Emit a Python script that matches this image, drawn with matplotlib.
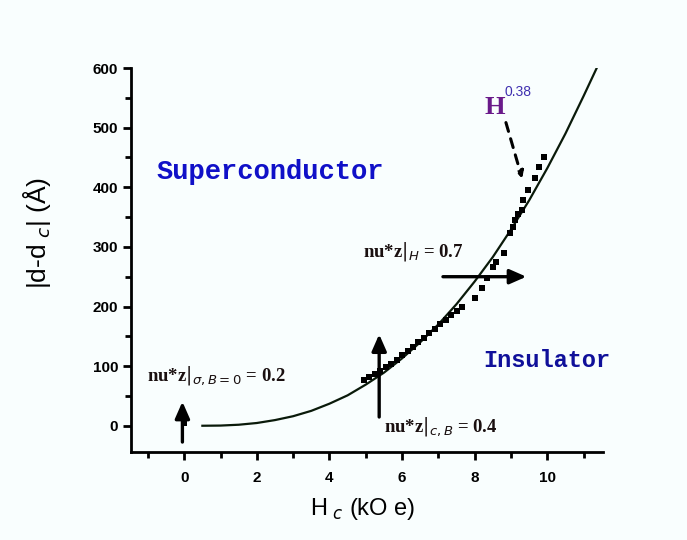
import matplotlib.pyplot as plt
from matplotlib.ticker import MultipleLocator

# fitted power-law curve, read at half-unit steps of H_c
curve_h = [0.5, 1.0, 1.5, 2.0, 2.5, 3.0, 3.5, 4.0, 4.5, 5.0, 5.5, 6.0, 6.5, 7.0,
           7.5, 8.0, 8.5, 9.0, 9.5, 10.0, 10.5, 11.0, 11.4]
curve_d = [0, 0.3, 1.7, 4.6, 9.5, 16, 25, 37, 51, 69, 89, 113, 140, 170,
           204, 242, 283, 329, 378, 432, 490, 553, 605]

# measured points
meas_h = [0.0, 4.95, 5.1, 5.25, 5.4, 5.55, 5.7, 5.85, 6.0, 6.15, 6.3, 6.45, 6.6,
          6.75, 6.9, 7.05, 7.2, 7.35, 7.5, 7.65, 8.02, 8.2, 8.35, 8.5, 8.6,
          8.8, 8.98, 9.06, 9.12, 9.2, 9.3, 9.34, 9.48, 9.67, 9.76, 9.9]
meas_d = [5, 77, 82, 87, 92, 98, 104, 111, 118, 125, 132, 140, 148,
          155, 163, 171, 178, 185, 192, 200, 214, 231, 248, 266, 275,
          290, 323, 333, 345, 355, 362, 378, 395, 415, 434, 451]

plt.rcParams['font.family'] = ['Liberation Sans', 'DejaVu Sans']

fig = plt.figure(figsize=(6.87, 5.4), dpi=100, facecolor='#f9fefe')
ax = fig.add_axes([0.191, 0.163, 0.687, 0.711])
ax.set_facecolor('#f9fefe')

ax.plot(curve_h, curve_d, color='#0a1a0a', lw=1.6, zorder=2)
ax.plot(meas_h, meas_d, 's', color='black', ms=5, mew=0, zorder=3)

# exponent arrows
arrow = dict(arrowstyle='-|>,head_length=0.5,head_width=0.22', color='black',
             lw=2.4, mutation_scale=20)
ax.annotate('', xy=(-0.05, 45), xytext=(-0.05, -32), arrowprops=arrow)
ax.annotate('', xy=(5.37, 158), xytext=(5.37, 10), arrowprops=arrow)
ax.annotate('', xy=(9.5, 250), xytext=(7.05, 250), arrowprops=arrow)
ax.annotate('', xy=(9.33, 410), xytext=(8.84, 513),
            arrowprops=dict(arrowstyle='-|>', color='black', lw=2.2,
                            ls=(0, (3, 2.5)), mutation_scale=10))

lbl = dict(family='Liberation Serif', fontsize=13.5, fontweight='bold', color='#1a1010')
ax.text(-1.02, 84, r'nu*z$|_{\sigma,B=0}$ = 0.2', va='center', **lbl)
ax.text(5.5, -2, r'nu*z$|_{c,B}$ = 0.4', va='center', **lbl)
ax.text(4.92, 292, r'nu*z$|_{H}$ = 0.7', va='center', **lbl)

ax.text(8.28, 533, 'H', family='Liberation Serif', fontsize=19,
        fontweight='bold', color='#6a1a8a', va='center')
ax.text(8.83, 560, '0.38', fontsize=10, color='#4030b0', va='center')

ax.text(-0.75, 425, 'Superconductor', family='Liberation Mono', fontsize=19.5,
        fontweight='bold', color='#1010c8', va='center')
ax.text(8.25, 110, 'Insulator', family='Liberation Mono', fontsize=17,
        fontweight='bold', color='#10109a', va='center')

ax.set_xlim(-1.46, 11.54)
ax.set_ylim(-44, 600)
ax.xaxis.set_major_locator(MultipleLocator(2))
ax.xaxis.set_minor_locator(MultipleLocator(1))
ax.yaxis.set_major_locator(MultipleLocator(100))
ax.yaxis.set_minor_locator(MultipleLocator(50))

for s in ('top', 'right'):
    ax.spines[s].set_visible(False)
for s in ('left', 'bottom'):
    ax.spines[s].set_linewidth(2)

ax.tick_params(which='major', length=6, width=2, labelsize=11)
ax.tick_params(which='minor', length=4, width=2)
ax.tick_params(axis='x', pad=8)
for t in ax.get_xticklabels() + ax.get_yticklabels():
    t.set_fontweight('bold')

ax.set_xlabel(r'H$_{\ c}$ (kO e)', fontsize=17)
ax.set_ylabel(r'|d-d$_{\ c}$| (Å)', fontsize=19)
ax.xaxis.set_label_coords(0.49, -0.115)
ax.yaxis.set_label_coords(-0.165, 0.57)

fig.savefig('out.png', dpi=100, facecolor=fig.get_facecolor())
